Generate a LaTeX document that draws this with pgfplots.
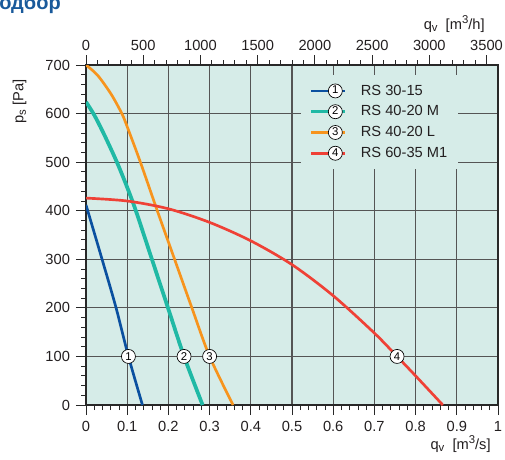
\documentclass[border=0pt]{standalone}
\usepackage{pgfplots}
\pgfplotsset{compat=1.18}
\usepackage{fontspec}
\setmainfont{Liberation Sans}

\definecolor{bgc}{RGB}{214,236,232}
\definecolor{gridc}{RGB}{85,85,85}
\definecolor{axc}{RGB}{40,40,40}
\definecolor{txt}{RGB}{35,31,32}
\definecolor{titleblue}{RGB}{25,90,155}
\definecolor{c1}{RGB}{10,80,160}
\definecolor{c2}{RGB}{32,185,165}
\definecolor{c3}{RGB}{247,148,29}
\definecolor{c4}{RGB}{239,65,54}

\tikzset{
  tlab/.style={font=\fontsize{11}{13}\selectfont, text=txt},
  numcirc/.style={circle, draw=black, line width=0.5pt, fill=white, inner sep=0pt,
    minimum size=10.5pt, font=\fontsize{8.5}{9}\selectfont, text=black},
}
\newcommand{\lsub}[1]{\raisebox{-0.35ex}{\fontsize{8.5}{9}\selectfont #1}}
\newcommand{\lsup}[1]{\raisebox{0.7ex}{\fontsize{8.5}{9}\selectfont #1}}

\begin{document}
\begin{tikzpicture}
\useasboundingbox (0pt,0pt) rectangle (378.75pt,-344.25pt);
\node[anchor=base west, inner sep=0, text=titleblue,
  font=\fontsize{15}{18}\selectfont\bfseries] at (-0.75pt,-7.1pt) {одбор};
% y-axis label, placed beside the axis box
\node[rotate=90, anchor=center, inner sep=0, tlab] at (14.6pt,-76.1pt) {p\lsub{s} [Pa]};

\begin{axis}[
  at={(64.5pt,-303.75pt)}, anchor=south west,
  scale only axis, width=309pt, height=255pt,
  xmin=0, xmax=1, ymin=0, ymax=700,
  xtick={0,0.1,0.2,0.3,0.4,0.5,0.6,0.7,0.8,0.9,1},
  ytick={0,100,200,300,400,500,600,700},
  minor x tick num=4, minor y tick num=4,
  xtick pos=left, ytick pos=left,
  tick align=outside,
  major tick length=7.5pt, minor tick length=3.75pt,
  every tick/.style={axc, line width=0.6pt},
  axis line style={axc, line width=0.8pt},
  grid=major,
  grid style={gridc, line width=0.8pt},
  axis background/.style={fill=bgc},
  /pgf/number format/assume math mode=true,
  ticklabel style={tlab},
  xticklabel style={yshift=-1pt},
  yticklabel style={xshift=-1pt},
  xlabel={q\lsub{v}\ \ [m\lsup{3}/s]},
  every axis x label/.style={at={(axis description cs:1,0)}, anchor=base east,
    xshift=-2pt, yshift=-33pt, tlab},
  legend style={at={(axis description cs:0.522,0.97)}, anchor=north west,
    fill=bgc, draw=none, font=\fontsize{11}{13}\selectfont, text=txt,
    row sep=2.4pt, inner xsep=6pt, inner ysep=5pt},
  legend cell align=left,
]

\addplot[c1, line width=2pt, smooth,
  legend image code/.code={\draw[c1, line width=2pt] (0pt,0pt) -- (25.5pt,0pt);
    \node[numcirc] at (12.75pt,0pt) {1}; \path (34pt,0pt);}]
coordinates {(0,412) (0.039,300) (0.073,200) (0.103,100) (0.137,0)};
\addlegendentry{RS 30-15}

\addplot[c2, line width=2.8pt, smooth,
  legend image code/.code={\draw[c2, line width=2.5pt] (0pt,0pt) -- (25.5pt,0pt);
    \node[numcirc] at (12.75pt,0pt) {2}; \path (34pt,0pt);}]
coordinates {(0,624) (0.02,597) (0.044,557) (0.075,500) (0.1,448) (0.121,400)
  (0.16,300) (0.199,200) (0.238,100) (0.283,0)};
\addlegendentry{RS 40-20 M}

\addplot[c3, line width=2pt, smooth,
  legend image code/.code={\draw[c3, line width=2pt] (0pt,0pt) -- (25.5pt,0pt);
    \node[numcirc] at (12.75pt,0pt) {3}; \path (34pt,0pt);}]
coordinates {(0,700) (0.028,679) (0.061,640) (0.087,600) (0.1,573) (0.132,500)
  (0.173,400) (0.215,300) (0.257,200) (0.300,100) (0.357,0)};
\addlegendentry{RS 40-20 L}

\addplot[c4, line width=2pt, smooth,
  legend image code/.code={\draw[c4, line width=2pt] (0pt,0pt) -- (25.5pt,0pt);
    \node[numcirc] at (12.75pt,0pt) {4}; \path (34pt,0pt);}]
coordinates {(0,426) (0.1,420) (0.2,404) (0.3,376) (0.4,338) (0.5,289) (0.6,225)
  (0.7,148) (0.755,100) (0.8,60) (0.866,0)};
\addlegendentry{RS 60-35 M1}

\addplot[draw=none, forget plot, nodes near coords, point meta=explicit symbolic,
  every node near coord/.style={numcirc, anchor=center}]
coordinates {(0.103,100) [1] (0.238,100) [2] (0.300,100) [3] (0.755,100) [4]};
\end{axis}

\begin{axis}[
  at={(64.5pt,-303.75pt)}, anchor=south west,
  scale only axis, width=309pt, height=255pt,
  xmin=0, xmax=3600, ymin=0, ymax=700,
  axis x line*=top, axis y line=none,
  x axis line style={draw=none},
  xtick={0,500,1000,1500,2000,2500,3000,3500},
  minor x tick num=4,
  tick align=outside,
  major tick length=7.5pt, minor tick length=3.75pt,
  every tick/.style={axc, line width=0.6pt},
  /pgf/number format/assume math mode=true,
  /pgf/number format/1000 sep={},
  ticklabel style={tlab},
  xlabel={q\lsub{v}\ \ [m\lsup{3}/h]},
  every axis x label/.style={at={(axis description cs:1,1)}, anchor=base east,
    xshift=-6.5pt, yshift=27pt, tlab},
]
\end{axis}
\end{tikzpicture}
\end{document}
